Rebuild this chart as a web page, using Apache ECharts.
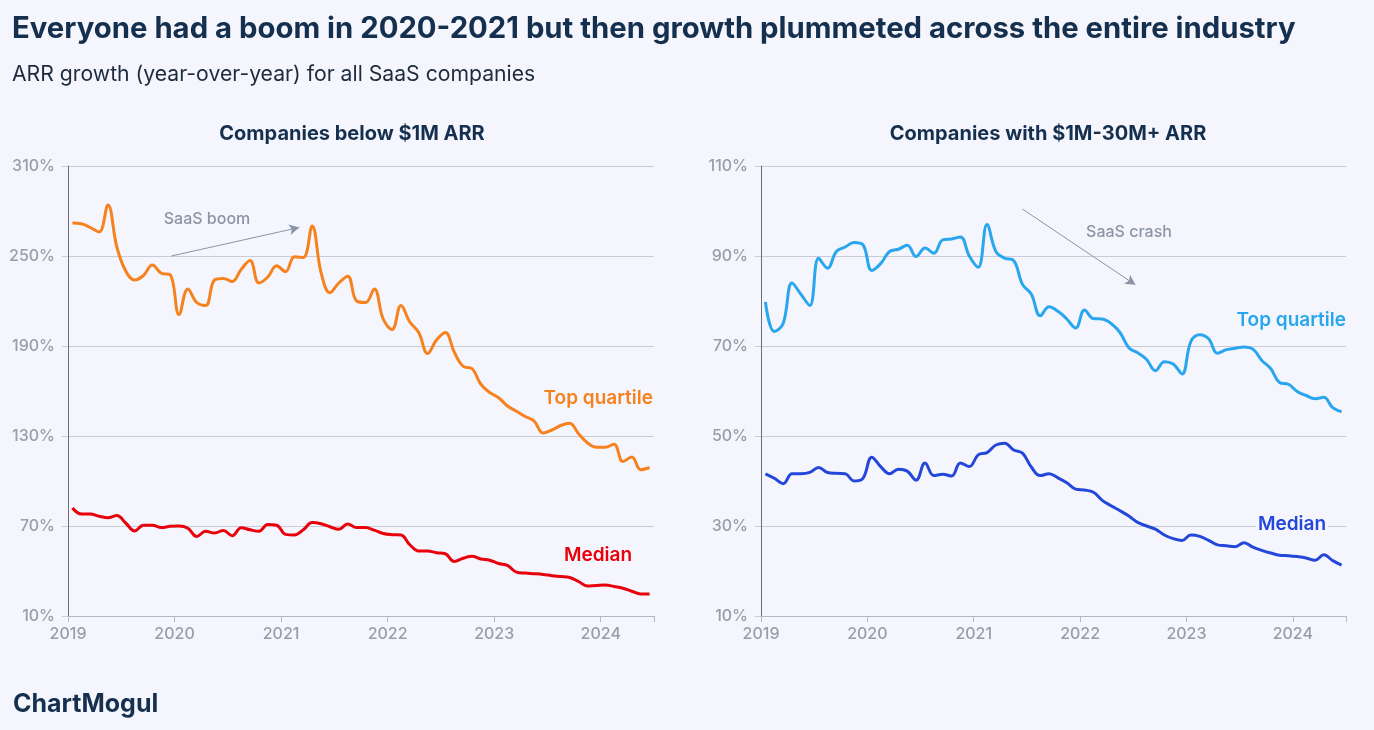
<!DOCTYPE html>
<html>
<head>
<meta charset="utf-8">
<script src="https://cdn.jsdelivr.net/npm/echarts@6/dist/echarts.min.js"></script>
<style>
html,body{margin:0;padding:0;background:#f5f6fd;}
#c{width:1374px;height:730px;}
</style>
</head>
<body>
<div id="c"></div>
<script>
// Monthly data, Jan 2019 .. Jun 2024 (66 months)
const startYear = 2019;
const monthsCount = 66;
const smallTop = [272,271.5,269,266,284,256,240,234,237,244,238.5,237.5,
  211,228,219,217,234,235,233,241,247,232,236,243.5,
  239.5,249.5,249,270,239,225.5,232,236.5,220,219,228,208,
  201,217,206,199,185,194,199,186,176.5,175,164.5,159,
  155.5,150,146.5,143,140,132,134,137,138.5,131.5,125.5,122.5,
  122.5,124.5,113,116,107.5,109];
const smallMedian = [82,78,78,76.5,75.5,77,72,66.7,70.5,70.5,69,69.8,
  70,68.5,63,66.5,65.3,67,63.5,68.9,67.5,66.5,71,70.5,
  64.4,64,67.5,72.3,71.5,69.5,67.8,71.3,69,69,67.2,65,
  64.2,64,57.5,53.3,53.3,52.2,51.5,46.3,48.5,49.8,48,47.2,
  45,43.7,39.3,38.6,38.2,37.7,36.9,36.3,35.7,33,30,30.3,
  30.6,29.7,28.5,26.5,24.7,24.7];
const largeTop = [79.8,73.2,75,84,81.5,79,89.5,87.3,91,92,93,92.5,
  86.8,88.3,91,91.5,92.4,89.9,91.8,90.6,93.6,93.8,94.2,90,
  87.5,97,91,89.5,89,83.7,81.5,76.7,78.7,77.7,76,74,
  78,76.1,76,75,73,69.6,68.5,67,64.5,66.5,66,63.8,
  71,72.5,71.6,68.4,69.2,69.5,69.8,69.3,66.8,65,61.9,61.5,
  59.9,59,58.3,58.6,56.3,55.4];
const largeMedian = [41.6,40.6,39.4,41.6,41.6,41.9,43,41.9,41.7,41.6,40,40.6,
  45.3,43.2,41.6,42.6,42.2,40.2,44,41.2,41.5,41.1,44,43.2,
  45.8,46.3,48,48.4,46.9,46.2,43.1,41.2,41.6,40.7,39.6,38.2,
  38,37.5,35.7,34.5,33.4,32.2,30.8,30,29.3,28,27.2,26.8,
  28,27.7,26.8,25.8,25.6,25.4,26.3,25.3,24.6,24,23.5,23.4,
  23.2,22.9,22.4,23.6,22.3,21.3];
const yearTicks = [2019,2020,2021,2022,2023,2024];
const leftYTicks = [10,70,130,190,250,310];
const rightYTicks = [10,30,50,70,90,110];

const monthX = Array.from({length: monthsCount}, (_, m) => startYear + (m + 0.5) / 12);
const pair = arr => arr.map((v, i) => [monthX[i], v]);

const FONT = 'Inter, "Noto Sans", sans-serif';
const navy = '#15304f';
const grey = '#8a94a6';
const tickGrey = '#9a9ca8';
const gridGrey = '#c9cbd6';
const bg = '#f5f6fd';

function xAxis(gi) {
  return {
    type: 'value', gridIndex: gi, min: 2019, max: 2024.5, interval: 1,
    axisLine: {show: true, lineStyle: {color: '#b4b7c3', width: 1}},
    axisTick: {show: true, length: 6, lineStyle: {color: '#b4b7c3'}},
    splitLine: {show: false},
    axisLabel: {
      color: tickGrey, fontSize: 16, fontFamily: FONT, fontWeight: 500, margin: 10,
      formatter: v => yearTicks.includes(v) ? String(v) : ''
    }
  };
}
function yAxis(gi, ticks) {
  return {
    type: 'value', gridIndex: gi, min: ticks[0], max: ticks[ticks.length - 1],
    interval: ticks[1] - ticks[0],
    axisLine: {show: true, onZero: false, lineStyle: {color: '#6e7079', width: 1}},
    axisTick: {show: true, length: 6, lineStyle: {color: gridGrey}},
    splitLine: {show: true, lineStyle: {color: gridGrey, width: 1}},
    axisLabel: {color: tickGrey, fontSize: 16, fontFamily: FONT, fontWeight: 500, margin: 13,
      padding: [6, 0, 0, 0],
      formatter: v => v + '%'}
  };
}
function line(name, data, color, gi) {
  return {
    name, type: 'line', xAxisIndex: gi, yAxisIndex: gi, data: pair(data),
    smooth: 0.4, symbol: 'none', lineStyle: {color, width: 3}, itemStyle: {color},
    z: 3, silent: true
  };
}
function arrow(gi, from, to) {
  return {
    type: 'line', xAxisIndex: gi, yAxisIndex: gi, data: [], silent: true,
    markLine: {
      silent: true, symbol: ['none', 'arrow'], symbolSize: [8, 10],
      label: {show: false},
      lineStyle: {color: grey, width: 1, type: 'solid'},
      data: [[{coord: from}, {coord: to}]]
    }
  };
}
function text(x, y, t, style) {
  return {type: 'text', x, y, z: 100, style: Object.assign({text: t, fontFamily: FONT, verticalAlign: 'middle'}, style), silent: true};
}

const chart = echarts.init(document.getElementById('c'), null, {renderer: 'canvas'});
chart.setOption({
  backgroundColor: bg,
  animation: false,
  grid: [
    {left: 68, right: 720, top: 166, bottom: 114},
    {left: 761, right: 28, top: 166, bottom: 114}
  ],
  xAxis: [xAxis(0), xAxis(1)],
  yAxis: [yAxis(0, leftYTicks), yAxis(1, rightYTicks)],
  series: [
    line('Top quartile', smallTop, '#f5821f', 0),
    line('Median', smallMedian, '#e8000b', 0),
    line('Top quartile', largeTop, '#29a6ee', 1),
    line('Median', largeMedian, '#2347d8', 1),
    arrow(0, [2019.97, 250], [2021.17, 269]),
    arrow(1, [2021.46, 100.4], [2022.52, 83.6])
  ],
  graphic: [
    text(12, 29, 'Everyone had a boom in 2020-2021 but then growth plummeted across the entire industry',
      {fontSize: 29.3, fontWeight: 700, fill: navy}),
    text(12, 75, 'ARR growth (year-over-year) for all SaaS companies',
      {fontSize: 21.2, fontWeight: 400, fill: '#1d2b3d'}),
    text(352, 134, 'Companies below $1M ARR', {fontSize: 20, fontWeight: 700, fill: navy, align: 'center'}),
    text(1048, 134, 'Companies with $1M-30M+ ARR', {fontSize: 20, fontWeight: 700, fill: navy, align: 'center'}),
    text(207, 219, 'SaaS boom', {fontSize: 16, fontWeight: 500, fill: grey, align: 'center'}),
    text(1129, 232, 'SaaS crash', {fontSize: 16, fontWeight: 500, fill: grey, align: 'center'}),
    text(653, 398, 'Top quartile', {fontSize: 19, fontWeight: 600, fill: '#f5821f', align: 'right'}),
    text(598, 555, 'Median', {fontSize: 19, fontWeight: 600, fill: '#e8000b', align: 'center'}),
    text(1346, 320, 'Top quartile', {fontSize: 19, fontWeight: 600, fill: '#29a6ee', align: 'right'}),
    text(1292, 524, 'Median', {fontSize: 19, fontWeight: 600, fill: '#2347d8', align: 'center',
      backgroundColor: bg, padding: [1, 2]}),
    text(13, 704, 'ChartMogul', {fontSize: 25, fontWeight: 700, fill: navy, letterSpacing: -0.5})
  ]
});
</script>
</body>
</html>
